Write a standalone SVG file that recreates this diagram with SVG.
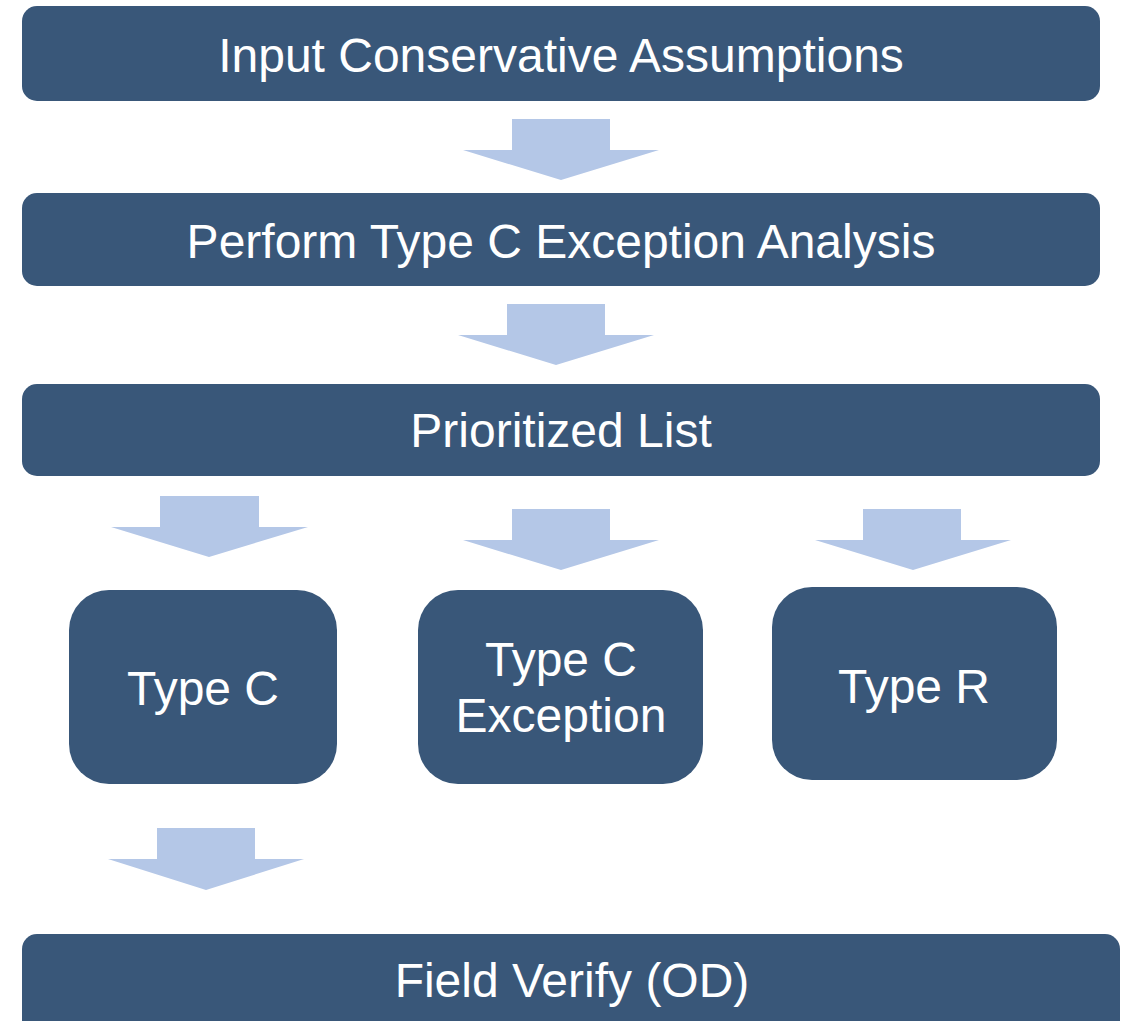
<svg xmlns="http://www.w3.org/2000/svg" width="1122" height="1021" viewBox="0 0 1122 1021">
<style>
.box{fill:#395779}
.arr{fill:#B4C7E7}
.t{font-family:"Liberation Sans",Arial,sans-serif;font-size:48px;fill:#FFFFFF;text-anchor:middle}
</style>
<rect width="1122" height="1021" fill="#FFFFFF"/>
<g id="connectors">
<polygon class="arr" points="512,119 610,119 610,150 659,150 561,180 463,150 512,150"/>
<polygon class="arr" points="507,304 605,304 605,335 654,335 556,365 458,335 507,335"/>
<polygon class="arr" points="160,496 259,496 259,527 308,527 209,557 111,527 160,527"/>
<polygon class="arr" points="512,509 610,509 610,540 659,540 561,570 463,540 512,540"/>
<polygon class="arr" points="863,509 961,509 961,540 1011,540 913,570 815,540 863,540"/>
<polygon class="arr" points="157,828 255,828 255,859 304,859 206,890 108,859 157,859"/>
</g>
<g id="n1">
<rect class="box" x="22" y="6" width="1078" height="95" rx="15"/>
<text class="t" x="561" y="72">Input Conservative Assumptions</text>
</g>
<g id="n2">
<rect class="box" x="22" y="193" width="1078" height="93" rx="15"/>
<text class="t" x="561" y="258">Perform Type C Exception Analysis</text>
</g>
<g id="n3">
<rect class="box" x="22" y="384" width="1078" height="92" rx="15"/>
<text class="t" x="561" y="447">Prioritized List</text>
</g>
<g id="n4">
<rect class="box" x="69" y="590" width="268" height="194" rx="40"/>
<text class="t" x="203" y="705">Type C</text>
</g>
<g id="n5">
<rect class="box" x="418" y="590" width="285" height="194" rx="40"/>
<text class="t" x="561" y="676">Type C</text>
<text class="t" x="561" y="732">Exception</text>
</g>
<g id="n6">
<rect class="box" x="772" y="587" width="285" height="193" rx="40"/>
<text class="t" x="914" y="703">Type R</text>
</g>
<g id="n7">
<rect class="box" x="22" y="934" width="1098" height="120" rx="15"/>
<text class="t" x="572" y="997">Field Verify (OD)</text>
</g>
</svg>
